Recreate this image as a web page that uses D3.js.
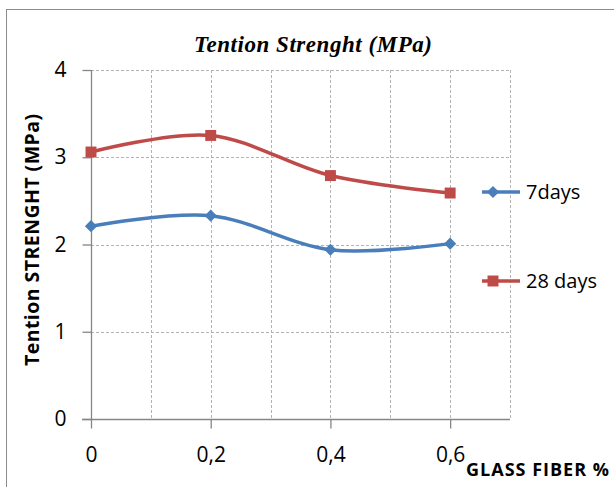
<!DOCTYPE html>
<html>
<head>
<meta charset="utf-8">
<script src="https://cdn.jsdelivr.net/npm/d3@7"></script>
<style>
  body { margin: 0; background: #fff; }
  svg { display: block; }
</style>
</head>
<body>
<div id="chart"></div>
<script>
// data
const fiber = [0, 0.2, 0.4, 0.6];
const days7 = [2.21, 2.33, 1.94, 2.01];
const days28 = [3.06, 3.25, 2.79, 2.59];
const seriesNames = ["7days", "28 days"];
const xTicks = [0, 0.2, 0.4, 0.6];
const xGrid = [0.1, 0.2, 0.3, 0.4, 0.5, 0.6, 0.7];
const yTicks = [0, 1, 2, 3, 4];

const width = 614, height = 487;
const blue = "#4a7ebb", red = "#be4b48";
const axisCol = "#868686", gridCol = "#b3b3b3";
const numFont = "'Open Sans', sans-serif";

const svg = d3.select("#chart").append("svg")
  .attr("width", width)
  .attr("height", height);

// chart frame
svg.append("rect")
  .attr("x", 6.5).attr("y", 9.5)
  .attr("width", 700).attr("height", 600)
  .attr("fill", "none")
  .attr("stroke", "#8c8c8c")
  .attr("stroke-width", 1);

const x = d3.scaleLinear().domain([0, 0.7]).range([91, 510]);
const y = d3.scaleLinear().domain([0, 4]).range([419, 70]);

// grid
const grid = svg.append("g")
  .attr("stroke", gridCol)
  .attr("stroke-width", 1)
  .attr("stroke-dasharray", "3,2");

grid.selectAll("line.v").data(xGrid).enter().append("line")
  .attr("class", "v")
  .attr("x1", d => Math.round(x(d)) + 0.5).attr("x2", d => Math.round(x(d)) + 0.5)
  .attr("y1", y(4)).attr("y2", y(0));

grid.selectAll("line.h").data(yTicks.filter(d => d > 0)).enter().append("line")
  .attr("class", "h")
  .attr("x1", x(0)).attr("x2", x(0.7))
  .attr("y1", d => Math.round(y(d)) + 0.5).attr("y2", d => Math.round(y(d)) + 0.5);

// y axis
const yAxis = svg.append("g")
  .attr("transform", `translate(${x(0) + 0.5},0)`)
  .call(d3.axisLeft(y).tickValues(yTicks).tickSize(9).tickPadding(16).tickFormat(d3.format("d")));

// x axis
const xAxis = svg.append("g")
  .attr("transform", `translate(0,${y(0) + 0.5})`)
  .call(d3.axisBottom(x).tickValues(xTicks).tickSize(9).tickPadding(19)
    .tickFormat(d => d === 0 ? "0" : String(d).replace(".", ",")));

[xAxis, yAxis].forEach(a => {
  a.select(".domain").attr("stroke", axisCol).attr("stroke-width", 1.3);
  a.selectAll(".tick line").attr("stroke", axisCol).attr("stroke-width", 1.3);
  a.selectAll(".tick text")
    .attr("fill", "#000")
    .style("font-family", numFont)
    .style("font-size", "21px");
});
yAxis.select(".domain").attr("d", `M0,${y(4)}V${y(0)}`);
xAxis.select(".domain").attr("d", `M${x(0) - 9},0H${x(0.7)}`);

// lines
const line = d3.line()
  .x((d, i) => x(fiber[i]))
  .y(d => y(d))
  .curve(d3.curveCatmullRom.alpha(0));

svg.append("path").datum(days7)
  .attr("fill", "none").attr("stroke", blue).attr("stroke-width", 3.5)
  .attr("d", line);
svg.append("path").datum(days28)
  .attr("fill", "none").attr("stroke", red).attr("stroke-width", 3.5)
  .attr("d", line);

const diamond = d3.symbol().type(d3.symbolDiamond2).size(95);
const square = d3.symbol().type(d3.symbolSquare).size(120);

svg.selectAll("path.m7").data(days7).enter().append("path")
  .attr("class", "m7")
  .attr("transform", (d, i) => `translate(${x(fiber[i])},${y(d)})`)
  .attr("d", diamond).attr("fill", blue);

svg.selectAll("path.m28").data(days28).enter().append("path")
  .attr("class", "m28")
  .attr("transform", (d, i) => `translate(${x(fiber[i])},${y(d)})`)
  .attr("d", square).attr("fill", red);

// legend
const legend = svg.append("g");
const legendRows = [
  { name: seriesNames[0], color: blue, sym: diamond, y: 192 },
  { name: seriesNames[1], color: red, sym: square, y: 281 }
];
legendRows.forEach(r => {
  legend.append("line")
    .attr("x1", 482).attr("x2", 520)
    .attr("y1", r.y).attr("y2", r.y)
    .attr("stroke", r.color).attr("stroke-width", 3.5);
  legend.append("path")
    .attr("transform", `translate(493,${r.y})`)
    .attr("d", r.sym).attr("fill", r.color);
  legend.append("text")
    .attr("x", 526).attr("y", r.y + 7)
    .style("font-family", numFont)
    .style("font-size", "20px")
    .text(r.name);
});

// titles
svg.append("text")
  .attr("x", 313).attr("y", 52)
  .attr("text-anchor", "middle")
  .attr("textLength", 238)
  .style("font-family", "'Liberation Serif', 'Times New Roman', serif")
  .style("font-weight", "bold")
  .style("font-style", "italic")
  .style("font-size", "23px")
  .text("Tention Strenght (MPa)");

svg.append("text")
  .attr("transform", "translate(39,240) rotate(-90)")
  .attr("text-anchor", "middle")
  .attr("textLength", 252)
  .style("font-family", numFont)
  .style("font-weight", "bold")
  .style("font-size", "19.5px")
  .text("Tention  STRENGHT (MPa)");

svg.append("text")
  .attr("x", 466).attr("y", 476)
  .attr("textLength", 143)
  .style("font-family", numFont)
  .style("font-weight", "bold")
  .style("font-size", "18px")
  .text("GLASS FIBER %");
</script>
</body>
</html>
